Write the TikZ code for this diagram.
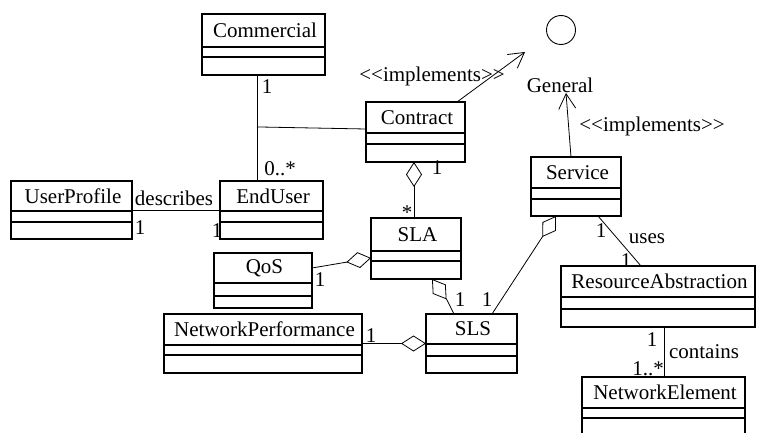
\documentclass[tikz,border=0pt]{standalone}
\usepackage{fontspec}
\setmainfont{Liberation Serif}[Ligatures=TeXOff]
\usetikzlibrary{arrows.meta,fit,calc}
\tikzset{
  boxsty/.style={draw, line width=1.1pt, inner sep=0pt, outer sep=0pt},
  boxline/.style={line width=1.1pt},
  txt/.style={font=\fontsize{21pt}{24pt}\selectfont, inner sep=0pt},
  conn/.style={line width=0.8pt},
  aggs/.style={arrows={{Diamond[open,length=25pt,width=16pt]}-}},
  impl/.style={arrows={-{Straight Barb[length=15pt,width=17pt]}}}
}
\newcommand\umlcls[8]{%
  \node[boxsty, fit={(#2,#3)(#4,#7)}] (#1) {};
  \node[txt] (#1-t) at ({(#2+#4)/2+1.5},{(#3+#5)/2}) {#8};
  \draw[boxline] (#2,#5) -- (#4,#5) (#2,#6) -- (#4,#6);
}
\begin{document}
\begin{tikzpicture}[x=1pt,y=-1pt]
\clip (0,0) rectangle (757,433);
\fill[white] (0,0) rectangle (757,433);
% classes
\umlcls{comm}{202}{14}{325}{47}{57}{75}{Commercial}
\umlcls{ct}{366}{102}{465}{133}{144}{162}{Contract}
\umlcls{eu}{220}{181}{323}{211}{222}{239}{EndUser}
\umlcls{up}{11}{181}{132}{211}{222}{239}{UserProfile}
\umlcls{qos}{214}{253}{312}{283}{296}{308}{QoS}
\umlcls{np}{164}{314}{362}{345}{355}{373}{NetworkPerformance}
\umlcls{sla}{371}{218}{461}{251}{261}{279}{SLA}
\umlcls{sls}{426}{314}{517}{344}{356}{373}{SLS}
\umlcls{svc}{531}{157}{621}{188}{199}{216}{Service}
\umlcls{ra}{561}{266}{755}{297}{309}{327}{ResourceAbstraction}
\umlcls{ne}{582}{377}{745}{408}{418}{460}{NetworkElement}
% interface
\node[draw, circle, minimum size=29pt, inner sep=0pt, line width=0.9pt] (gen) at (561,30) {};
\node[txt] (gtext) at (560,85) {General};
% connectors
\draw[conn] ([xshift=55pt]comm.south west) coordinate (cA) -- ([xshift=37pt]eu.north west) coordinate (cB);
\coordinate (jn) at ($(cA)!0.49!(cB)$);
\draw[conn] (jn) -- ([yshift=3pt]ct.west);
\draw[conn,impl] ([xshift=91pt]ct.north west) -- ([xshift=-36pt,yshift=-22pt]gen.center);
\draw[conn,impl] ([xshift=40pt]svc.north west) -- ([xshift=6pt,yshift=-8pt]gtext.center);
\draw[conn,aggs] ([xshift=48pt]ct.south west) -- ([xshift=43pt]sla.north west);
\draw[conn] (up.east) -- (eu.west);
\draw[conn,aggs] ([yshift=-9.5pt]sla.west) -- ([yshift=12.5pt]qos.east);
\draw[conn,aggs] ([xshift=61pt]sla.south west) -- ++(15,21) -- ([xshift=28pt]sls.north west);
\draw[conn,aggs] ([xshift=25pt]svc.south west) -- ([xshift=66pt]sls.north west);
\draw[conn,aggs] (sls.west) -- (np.east);
\draw[conn] ([xshift=67pt]svc.south west) -- ([xshift=80pt]ra.north west);
\draw[conn] ([xshift=103pt]ra.south west) -- ([xshift=82pt]ne.north west);
% labels
\node[txt] (l1) at (267,87) {1};
\node[txt] (l2) at (280,169) {0..*};
\node[txt] (l3) at (432,76) {<<implements>>};
\node[txt] (l4) at (437,168) {1};
\node[txt] (l5) at (407,213) {*};
\node[txt] (l6) at (174,198) {describes};
\node[txt] (l7) at (140,228) {1};
\node[txt] (l8) at (217,231) {1};
\node[txt] (l9) at (320,280) {1};
\node[txt] (l10) at (371,336) {1};
\node[txt] (l11) at (460,300) {1};
\node[txt] (l12) at (487,300) {1};
\node[txt] (l13) at (652,126) {<<implements>>};
\node[txt] (l14) at (601,231) {1};
\node[txt] (l15) at (647,239) {uses};
\node[txt] (l16) at (626,261) {1};
\node[txt] (l17) at (652,340) {1};
\node[txt] (l18) at (704,352) {contains};
\node[txt] (l19) at (648,369) {1..*};
\end{tikzpicture}
\end{document}
